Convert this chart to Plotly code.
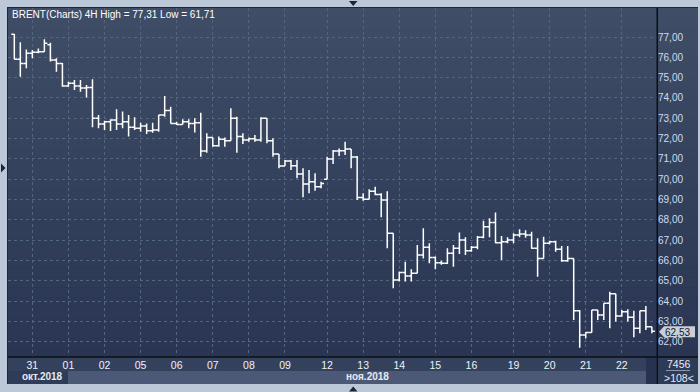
import plotly.graph_objects as go

# ---------------- data ----------------
bar_index = list(range(107))
open_ = [77.13, 75.90, 75.70, 76.20, 76.25, 76.28, 76.62, 75.87, 75.70, 74.59,
         74.72, 74.59, 74.49, 74.52, 73.00, 72.72, 72.83, 72.92, 72.72, 72.83,
         72.56, 72.51, 72.62, 72.39, 72.43, 73.16, 73.38, 72.75, 72.70, 72.83,
         72.75, 72.78, 71.39, 72.06, 71.65, 71.97, 71.90, 73.00, 72.10, 71.93,
         72.00, 71.93, 73.00, 71.90, 71.25, 70.66, 70.90, 70.67, 70.26, 69.77,
         69.88, 69.64, 70.00, 71.00, 71.39, 71.41, 71.49, 71.10, 69.10, 69.02,
         69.41, 69.25, 68.98, 67.35, 65.05, 65.41, 65.25, 65.38, 66.28, 66.66,
         66.16, 65.90, 65.87, 66.36, 66.61, 67.01, 66.49, 66.66, 67.15, 67.67,
         67.87, 66.88, 66.93, 67.01, 67.26, 67.31, 67.26, 66.61, 66.11, 66.85,
         66.93, 66.56, 66.00, 66.11, 63.54, 62.34, 62.46, 63.57, 63.33, 63.90,
         64.37, 63.28, 63.49, 63.21, 62.67, 63.54, 62.75]
high = [77.15, 76.74, 76.39, 76.36, 76.44, 76.89, 76.72, 75.95, 75.72, 74.80,
        74.88, 74.88, 74.64, 74.92, 73.16, 72.88, 72.95, 73.44, 73.33, 73.16,
        73.05, 72.78, 72.75, 72.78, 73.16, 74.10, 73.57, 72.83, 72.95, 72.95,
        73.00, 73.28, 72.26, 72.06, 72.10, 72.06, 73.49, 73.08, 72.26, 72.06,
        72.18, 73.05, 73.00, 72.02, 71.25, 70.95, 70.95, 70.95, 70.54, 70.46,
        70.30, 69.88, 71.11, 71.44, 71.52, 71.85, 71.49, 71.15, 69.31, 69.51,
        69.64, 69.31, 69.41, 67.35, 65.46, 65.95, 65.57, 66.77, 67.59, 66.85,
        66.20, 66.00, 66.61, 66.77, 67.38, 67.15, 66.72, 67.21, 67.96, 68.08,
        68.37, 67.21, 67.15, 67.35, 67.54, 67.49, 67.42, 67.10, 67.18, 66.97,
        66.97, 66.72, 66.72, 66.11, 63.57, 62.48, 63.57, 63.57, 63.90, 64.47,
        64.37, 63.57, 63.61, 63.54, 63.54, 63.77, 62.75]
low = [75.90, 75.05, 75.46, 75.95, 76.20, 76.28, 75.79, 75.29, 74.55, 74.55,
       74.39, 74.31, 74.03, 72.56, 72.51, 72.43, 72.38, 72.43, 72.51, 72.10,
       72.43, 72.34, 72.23, 72.29, 72.34, 73.08, 72.75, 72.67, 72.70, 72.51,
       72.30, 71.11, 71.31, 71.60, 71.60, 71.60, 71.90, 71.31, 71.74, 71.85,
       71.85, 71.85, 71.77, 71.11, 70.54, 70.66, 70.46, 70.05, 69.12, 69.31,
       69.44, 69.56, 70.00, 70.75, 71.15, 71.20, 70.54, 68.98, 68.95, 69.02,
       69.21, 68.13, 66.61, 64.64, 64.97, 64.97, 64.97, 65.38, 66.11, 65.87,
       65.57, 65.80, 65.84, 65.70, 66.33, 66.28, 66.44, 66.56, 67.10, 67.15,
       66.85, 66.03, 66.85, 66.85, 67.15, 67.13, 66.58, 65.21, 66.11, 66.80,
       66.44, 65.95, 65.95, 63.08, 61.71, 62.18, 62.46, 63.08, 63.08, 62.67,
       63.00, 63.24, 63.00, 62.23, 62.43, 62.59, 62.43]
close = [75.90, 75.70, 76.20, 76.25, 76.28, 76.69, 75.87, 75.70, 74.59, 74.72,
         74.59, 74.49, 74.52, 73.00, 72.72, 72.83, 72.92, 72.72, 72.83, 72.56,
         72.51, 72.62, 72.39, 72.43, 73.16, 73.38, 72.75, 72.70, 72.83, 72.75,
         72.78, 71.39, 72.06, 71.65, 71.97, 71.90, 73.00, 72.10, 71.93, 72.00,
         71.93, 73.00, 71.90, 71.25, 70.66, 70.90, 70.67, 70.26, 69.77, 69.88,
         69.64, 69.80, 71.00, 71.39, 71.41, 71.49, 71.10, 69.10, 69.02, 69.41,
         69.25, 68.98, 67.35, 65.05, 65.41, 65.25, 65.38, 66.28, 66.66, 66.16,
         65.90, 65.87, 66.36, 66.61, 67.01, 66.49, 66.66, 67.15, 67.67, 67.87,
         66.88, 66.93, 67.01, 67.26, 67.31, 67.26, 66.61, 66.11, 66.85, 66.93,
         66.56, 66.00, 66.11, 63.54, 62.34, 62.46, 63.57, 63.33, 63.90, 64.37,
         63.28, 63.49, 63.21, 62.67, 63.54, 62.75, 62.53]

day_tick_index = [3, 9, 15, 21, 27, 33, 39, 45, 52, 58, 64, 70, 76, 83, 89, 95, 101]
day_tick_text = ["31", "01", "02", "05", "06", "07", "08", "09", "12", "13",
                 "14", "15", "16", "19", "20", "21", "22"]
price_ticks = list(range(62, 78))
price_tick_text = [f"{p},00" for p in price_ticks]
months = ["окт.2018", "ноя.2018"]
title_text = "BRENT(Charts) 4H High = 77,31 Low = 61,71"
last_price = 62.53
last_price_text = "62,53"
counter_top = "7456"
counter_bottom = ">108<"

# ---------------- layout helpers (pixel -> paper) ----------------
W, H = 700, 392
def px(x):
    return x / W
def py(y):
    return 1 - y / H

PLOT_L, PLOT_R, PLOT_T, PLOT_B = 8, 657, 8, 357
X0, DX = 14.3, 6.015  # pixel position of bar 0 and spacing
x_range = [(PLOT_L - X0) / DX, (PLOT_R - X0) / DX]
PPU = 20.33
y_range = [77 - (PLOT_B - 37) / PPU, 77 + (37 - PLOT_T) / PPU]

FONT = "Liberation Sans, Arial, sans-serif"
GRID = "#56657f"

fig = go.Figure()
fig.add_trace(go.Ohlc(
    x=bar_index, open=open_, high=high, low=low, close=close,
    increasing=dict(line=dict(color="#ffffff", width=1.5)),
    decreasing=dict(line=dict(color="#ffffff", width=1.5)),
    tickwidth=0.5, hoverinfo="skip", showlegend=False,
))

shapes = []
def rect(x0, y0, x1, y1, color, layer="below"):
    shapes.append(dict(type="rect", xref="paper", yref="paper",
                       x0=px(x0), x1=px(x1), y0=py(y1), y1=py(y0),
                       fillcolor=color, line=dict(width=0), layer=layer))

def hexmix(c1, c2, t):
    return "#%02x%02x%02x" % tuple(int(round(a + (b - a) * t)) for a, b in zip(c1, c2))

# dark outer border
rect(7, 7, 698, 384, "#1f2636")
# gradient panel (plot + right axis)
top_c, bot_c = (63, 77, 102), (41, 53, 82)
n = 35
for i in range(n):
    y0 = PLOT_T + (PLOT_B - PLOT_T) * i / n
    y1 = PLOT_T + (PLOT_B - PLOT_T) * (i + 1) / n + 0.6
    rect(8, y0, 698, y1, hexmix(top_c, bot_c, (i + 0.5) / n))
# bottom bands
rect(8, 357, 698, 384, "#33415d")
rect(8, 371, 68, 384, "#2f3c58")
rect(68, 371, 646, 384, "#4b5977")
rect(646, 357, 656, 384, "#263250")
rect(658, 357, 698, 384, "#2e3b57")
# separators
rect(656.5, 8, 658, 384, "#0b0e16", layer="above")
rect(8, 356.3, 698, 357.8, "#0b0e16", layer="above")
rect(666, 370, 690, 371, "#8795b0", layer="above")

def tri(points, color):
    path = "M " + " L ".join(f"{px(x)},{py(y)}" for x, y in points) + " Z"
    shapes.append(dict(type="path", xref="paper", yref="paper", path=path,
                       fillcolor=color, line=dict(width=0), layer="above"))

tri([(349, 1), (357.5, 1), (353.2, 6)], "#1c2535")
tri([(1, 163.5), (1, 172.5), (5.5, 168)], "#1c2535")
tri([(349, 391.5), (357.5, 391.5), (353.2, 386.5)], "#1c2535")

# last price tag
ly = 37 + (77 - last_price) * PPU
tri([(659, ly + 0.5), (664, ly - 5), (695, ly - 5), (695, ly + 6), (664, ly + 6)], "#c9cfd9")

annotations = [
    dict(text=title_text, x=px(10), y=py(15), xref="paper", yref="paper",
         xanchor="left", yanchor="middle", showarrow=False,
         font=dict(family=FONT, size=10, color="#ffffff")),
    dict(text=months[0], x=px(42.5), y=py(376.5), xref="paper", yref="paper",
         xanchor="center", yanchor="middle", showarrow=False,
         font=dict(family=FONT, size=10, color="#e6ebf3", weight="bold")),
    dict(text=months[1], x=px(343.5), y=py(376.5), xref="paper", yref="paper",
         xanchor="left", yanchor="middle", showarrow=False,
         font=dict(family=FONT, size=10, color="#e6ebf3", weight="bold")),
    dict(text=counter_top, x=px(678.5), y=py(363.5), xref="paper", yref="paper",
         xanchor="center", yanchor="middle", showarrow=False,
         font=dict(family=FONT, size=10.5, color="#e6ebf3")),
    dict(text=counter_bottom, x=px(679), y=py(378), xref="paper", yref="paper",
         xanchor="center", yanchor="middle", showarrow=False,
         font=dict(family=FONT, size=10.5, color="#e6ebf3")),
    dict(text=last_price_text, x=px(662.5), y=py(ly + 1.2), xref="paper", yref="paper",
         xanchor="left", yanchor="middle", showarrow=False,
         font=dict(family=FONT, size=10, color="#141c2c")),
]

fig.update_layout(
    width=W, height=H, margin=dict(l=0, r=0, t=0, b=0),
    paper_bgcolor="#bcc8d8", plot_bgcolor="rgba(0,0,0,0)",
    shapes=shapes, annotations=annotations, showlegend=False,
    xaxis=dict(domain=[px(PLOT_L), px(PLOT_R)], range=x_range,
               rangeslider=dict(visible=False),
               tickmode="array", tickvals=day_tick_index, ticktext=day_tick_text,
               tickfont=dict(family=FONT, size=10.5, color="#eef2f8"),
               showgrid=True, gridcolor=GRID, griddash="3px,3px", gridwidth=1,
               zeroline=False, showline=False, ticks="", fixedrange=True),
    yaxis=dict(domain=[py(PLOT_B), py(PLOT_T)], range=y_range, side="right",
               tickmode="array", tickvals=price_ticks, ticktext=price_tick_text,
               tickfont=dict(family=FONT, size=10, color="#cfdcf2"),
               showgrid=True, gridcolor=GRID, griddash="3px,3px", gridwidth=1,
               zeroline=False, showline=False, ticks="", fixedrange=True),
)

fig.write_html("out.html")
